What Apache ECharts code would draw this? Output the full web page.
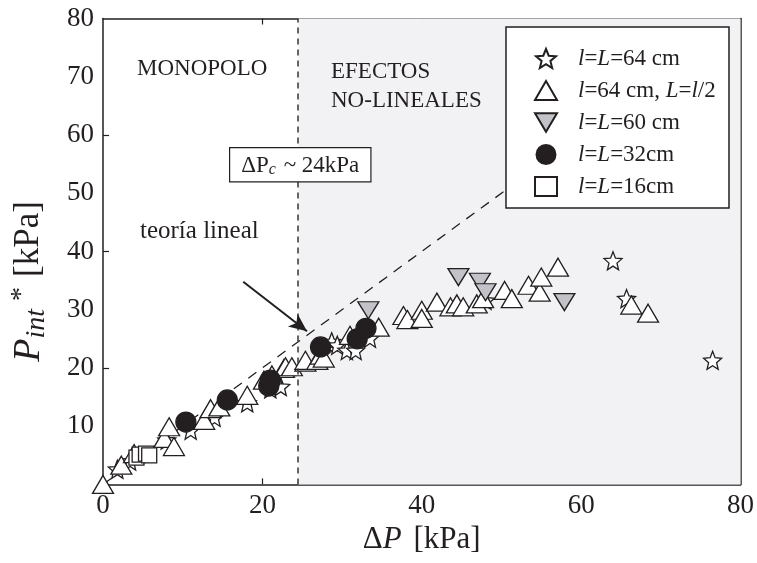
<!DOCTYPE html>
<html><head><meta charset="utf-8">
<script src="https://cdn.jsdelivr.net/npm/echarts@6/dist/echarts.min.js"></script>
<style>html,body{margin:0;padding:0;background:#fff}#c{width:757px;height:563px}</style>
</head><body><div id="c"></div>
<script>
// ---- data (ΔP [kPa], P_int* [kPa]) ----
const starData = [[1.8,2.6],[3.4,4.0],[8.0,7.6],[11.0,9.3],[14.0,11.5],[18.1,14.0],[21.0,16.4],[22.3,16.8],[27.6,22.6],[28.7,24.5],[29.4,23.9],[30.6,23.0],[31.7,23.0],[33.5,25.1],[48.0,31.6],[64.0,38.4],[65.7,31.9],[76.5,21.3]];
const triUpData = [[0,0],[2.3,3.3],[3.9,5.3],[7.7,7.9],[8.3,9.9],[8.9,6.5],[12.7,11.0],[13.5,13.0],[14.6,13.3],[18.1,15.3],[20.2,17.9],[21.2,18.8],[22.7,19.9],[22.9,20.2],[23.7,20.2],[25.4,21.0],[25.4,21.3],[26.9,21.3],[27.3,22.2],[27.7,21.7],[31.0,25.6],[34.6,27.0],[37.7,29.0],[38.2,28.3],[40.0,29.9],[40.0,28.5],[41.9,31.3],[43.6,30.5],[44.4,31.0],[45.2,30.5],[46.9,31.0],[47.7,31.9],[50.4,33.3],[51.3,31.9],[53.4,34.2],[54.8,33.0],[55.0,35.6],[57.1,37.3],[66.3,30.8],[68.4,29.4]];
const triDownData = [[33.3,29.9],[44.6,35.6],[47.3,34.8],[48.0,33.0],[57.9,31.3]];
const circleData = [[10.4,10.7],[15.6,14.5],[20.8,16.9],[21.0,17.9],[27.3,23.6],[31.9,25.0],[33.0,26.8]];
const squareData = [[4.2,4.6],[4.6,5.1],[5.4,5.3],[5.8,5.0]];
const theoryX = [0, 52];
const theoryY = [0, 52];
const criticalDP = 24.5;
const xTickLabels = [0, 20, 40, 60, 80];
const yTickLabels = [10, 20, 30, 40, 50, 60, 70, 80];
const tickMarks = [20, 40, 60];
const seriesNames = ['l=L=64 cm', 'l=64 cm, L=l/2', 'l=L=60 cm', 'l=L=32cm', 'l=L=16cm'];

const INK = '#231f20';
const FONT = '"Liberation Serif", "Times New Roman", serif';
const STAR = 'path://M0,-10 L2.6,-3.6 L9.51,-3.09 L4.2,1.4 L5.88,8.09 L0,4.4 L-5.88,8.09 L-4.2,1.4 L-9.51,-3.09 L-2.6,-3.6 Z';
const TRI_DOWN = 'path://M0,0 L20,0 L10,17 Z';

const legendRich = {
  i: {fontFamily: FONT, fontStyle: 'italic', fontSize: 23, color: INK},
  n: {fontFamily: FONT, fontSize: 23, color: INK}
};
const legendFmt = {
  'l=L=64 cm': '{i|l}{n|=}{i|L}{n|=64 cm}',
  'l=64 cm, L=l/2': '{i|l}{n|=64 cm, }{i|L}{n|=}{i|l}{n|/2}',
  'l=L=60 cm': '{i|l}{n|=}{i|L}{n|=60 cm}',
  'l=L=32cm': '{i|l}{n|=}{i|L}{n|=32cm}',
  'l=L=16cm': '{i|l}{n|=}{i|L}{n|=16cm}'
};

const theoryLine = theoryX.map((x, k) => [x, theoryY[k]]);

function scatter(name, data, symbol, size, fill, z) {
  return {
    type: 'scatter', name, data, symbol, symbolSize: size, z,
    itemStyle: {color: fill, borderColor: INK, borderWidth: 1.3, opacity: 1},
    emphasis: {disabled: true}
  };
}

const axisCommon = {
  type: 'value', min: 0, max: 80,
  splitLine: {show: false},
  axisLine: {show: true, onZero: false, lineStyle: {color: INK, width: 1.5}},
  axisTick: {show: true, inside: true, length: 6, customValues: tickMarks, lineStyle: {color: INK, width: 1.2}}
};

const chart = echarts.init(document.getElementById('c'), null, {renderer: 'canvas'});
chart.setOption({
  animation: false,
  backgroundColor: '#fff',
  grid: {left: 102, right: 16, top: 18.5, bottom: 78.6},
  xAxis: [
    Object.assign({}, axisCommon, {
      position: 'bottom',
      axisLabel: {show: true, customValues: xTickLabels, fontFamily: FONT, fontSize: 27, color: INK, margin: 8},
      name: '{d|Δ}{p|P}{g| }{n|[kPa]}', nameLocation: 'middle', nameGap: 38,
      nameTextStyle: {rich: {
        d: {fontFamily: FONT, fontSize: 31, color: INK},
        p: {fontFamily: FONT, fontSize: 31, fontStyle: 'italic', color: INK},
        g: {fontFamily: FONT, fontSize: 31, color: INK, padding: [0, 4, 0, 0]},
        n: {fontFamily: FONT, fontSize: 31, color: INK}
      }}
    }),
    Object.assign({}, axisCommon, {position: 'top', axisLabel: {show: false}})
  ],
  yAxis: [
    Object.assign({}, axisCommon, {
      position: 'left',
      axisLabel: {show: true, customValues: yTickLabels, fontFamily: FONT, fontSize: 27, color: INK, margin: 9},
      name: '{p|P}{s|int}{u|*}{g| }{n|[kPa]}', nameLocation: 'middle', nameGap: 52, nameRotate: 90,
      nameTextStyle: {padding: [0, 60, 0, 0], rich: {
        p: {fontFamily: FONT, fontSize: 38, fontStyle: 'italic', color: INK},
        s: {fontFamily: FONT, fontSize: 28, fontStyle: 'italic', color: INK, padding: [16, 0, 0, 0]},
        u: {fontFamily: FONT, fontSize: 28, color: INK, padding: [0, 0, 14, 8]},
        g: {fontFamily: FONT, fontSize: 28, color: INK, padding: [0, 3, 0, 0]},
        n: {fontFamily: FONT, fontSize: 35, color: INK}
      }}
    }),
    Object.assign({}, axisCommon, {position: 'right', axisLabel: {show: false}})
  ],
  legend: {
    orient: 'vertical', left: 529, top: 42, z: 60,
    itemWidth: 22, itemHeight: 19, itemGap: 9,
    data: seriesNames,
    formatter: n => legendFmt[n],
    textStyle: {lineHeight: 23, padding: [0, 0, 0, 16], rich: legendRich},
    selectedMode: false
  },
  graphic: [
    {type: 'rect', z: 50, shape: {x: 506, y: 27, width: 223, height: 181},
     style: {fill: '#fff', stroke: INK, lineWidth: 1.5}},
    {type: 'text', z: 10, left: 137, top: 57,
     style: {text: 'MONOPOLO', font: '23px ' + FONT, fill: INK}},
    {type: 'text', z: 10, left: 331, top: 57,
     style: {text: 'EFECTOS\nNO-LINEALES', font: '23px ' + FONT, fill: INK, lineHeight: 29}},
    {type: 'text', z: 10, left: 140, top: 219,
     style: {text: 'teoría lineal', font: '25px ' + FONT, fill: INK}},
    {type: 'text', z: 20, left: 229, top: 147,
     style: {
       text: '{n|ΔP}{s|c}{n| ~ 24kPa}',
       backgroundColor: '#fff', borderColor: INK, borderWidth: 1.2,
       padding: [5, 11, 3, 11],
       rich: {
         n: {fontFamily: FONT, fontSize: 23, fill: INK},
         s: {fontFamily: FONT, fontSize: 16, fontStyle: 'italic', fill: INK, padding: [9, 2, 0, 0]}
       }
     }}
  ],
  series: [
    {
      type: 'line', name: 'region', data: [], z: 1, silent: true,
      markArea: {silent: true, itemStyle: {color: '#f2f2f5'},
        data: [[{xAxis: criticalDP}, {xAxis: 80}]]},
      markLine: {silent: true, symbol: ['none', 'none'], label: {show: false},
        lineStyle: {color: '#3a3536', type: [6, 5], width: 1.5},
        data: [{xAxis: criticalDP}]}
    },
    {
      type: 'line', name: 'theory', data: theoryLine, z: 2, silent: true,
      showSymbol: false, symbol: 'none',
      lineStyle: {color: INK, width: 1.3, type: [10, 8]},
      markLine: {silent: true, symbol: ['none', 'arrow'], symbolSize: [12, 18], label: {show: false},
        lineStyle: {color: INK, width: 2, type: 'solid'},
        data: [[{coord: [17.6, 34.8]}, {coord: [25.6, 26.3]}]]}
    },
    scatter(seriesNames[0], starData, STAR, 18, '#fff', 3),
    scatter(seriesNames[1], triUpData, 'triangle', [21, 18], '#fff', 4),
    scatter(seriesNames[2], triDownData, TRI_DOWN, [21, 17], '#c2c3c9', 5),
    scatter(seriesNames[4], squareData, 'rect', 15, '#fff', 6),
    scatter(seriesNames[3], circleData, 'circle', 20, INK, 7)
  ]
});
</script></body></html>
